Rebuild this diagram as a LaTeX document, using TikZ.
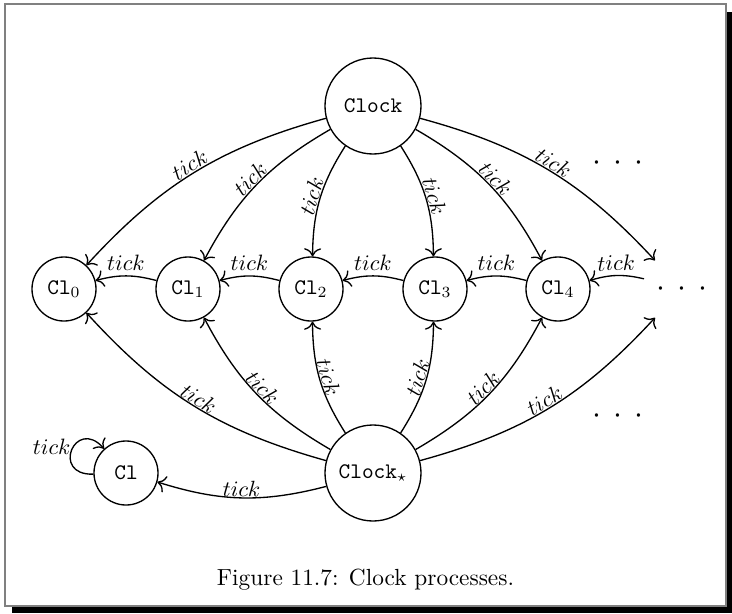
\documentclass[tikz,border=0pt]{standalone}
\usetikzlibrary{arrows.meta}
\newcommand\mydots{{\Large$\cdot$\hspace{5.3pt}$\cdot$\hspace{5.3pt}$\cdot$}}
\begin{document}
\begin{tikzpicture}[x=0.45pt,y=0.45pt,
  big/.style={circle,draw,line width=0.6pt,minimum size=43.2pt,inner sep=0pt},
  small/.style={circle,draw,line width=0.6pt,minimum size=28.8pt,inner sep=0pt},
  ghost/.style={circle,minimum size=35pt,inner sep=0pt},
  arr/.style={-{Computer Modern Rightarrow[scale=1.25]},line width=0.6pt},
  lab/.style={sloped,above,inner sep=0.3pt},
  hlab/.style={sloped,above,inner sep=2pt},
]
\useasboundingbox (0,0) rectangle (732,-613);
% frame with shadow
\fill[black] (12,-12) rectangle (732,-613);
\filldraw[fill=white,draw=gray,line width=0.5pt] (5,-4) rectangle (726,-606);

\node[big] (clk) at (373,-106) {\texttt{Clock}};
\node[big] (clks) at (373,-473) {$\texttt{Clock}_\star$};
\node[small] (c0) at (64,-289) {$\texttt{Cl}_0$};
\node[small] (c1) at (188,-289) {$\texttt{Cl}_1$};
\node[small] (c2) at (311,-289) {$\texttt{Cl}_2$};
\node[small] (c3) at (435,-289) {$\texttt{Cl}_3$};
\node[small] (c4) at (558,-289) {$\texttt{Cl}_4$};
\node[ghost] (c5) at (682,-289) {\mydots};
\node (d1) at (618,-163) {\mydots};
\node (d2) at (618,-416) {\mydots};
\node[small] (cl) at (126,-473) {\texttt{Cl}};

% from Clock
\draw[arr] (clk) to[bend right=16] node[lab] {$tick$} (c0);
\draw[arr] (clk) to[bend right=16] node[lab] {$tick$} (c1);
\draw[arr] (clk) to[bend right=16] node[lab] {$tick$} (c2);
\draw[arr] (clk) to[bend left=16] node[lab] {$tick$} (c3);
\draw[arr] (clk) to[bend left=16] node[lab] {$tick$} (c4);
\draw[arr] (clk) to[bend left=16] node[lab] {$tick$} (c5);
% from Clock*
\draw[arr] (clks) to[bend left=16] node[lab] {$tick$} (c0);
\draw[arr] (clks) to[bend left=16] node[lab] {$tick$} (c1);
\draw[arr] (clks) to[bend left=16] node[lab] {$tick$} (c2);
\draw[arr] (clks) to[bend right=16] node[lab] {$tick$} (c3);
\draw[arr] (clks) to[bend right=16] node[lab] {$tick$} (c4);
\draw[arr] (clks) to[bend right=16] node[lab] {$tick$} (c5);
\draw[arr] (clks) to[bend left=16] node[lab] {$tick$} (cl);
% chain
\draw[arr] (c1) to[bend right=15] node[hlab] {$tick$} (c0);
\draw[arr] (c2) to[bend right=15] node[hlab] {$tick$} (c1);
\draw[arr] (c3) to[bend right=15] node[hlab] {$tick$} (c2);
\draw[arr] (c4) to[bend right=15] node[hlab] {$tick$} (c3);
\draw[arr] (c5) to[bend right=15] node[hlab] {$tick$} (c4);
% loop
\draw[arr] (cl) to[out=182,in=132,looseness=4] node[pos=0.55,left,inner sep=1pt] {$tick$} (cl);

\node[anchor=base] (cap) at (365.5,-585) {\fontsize{10.5pt}{12pt}\selectfont Figure 11.7: Clock processes.};
\end{tikzpicture}
\end{document}
